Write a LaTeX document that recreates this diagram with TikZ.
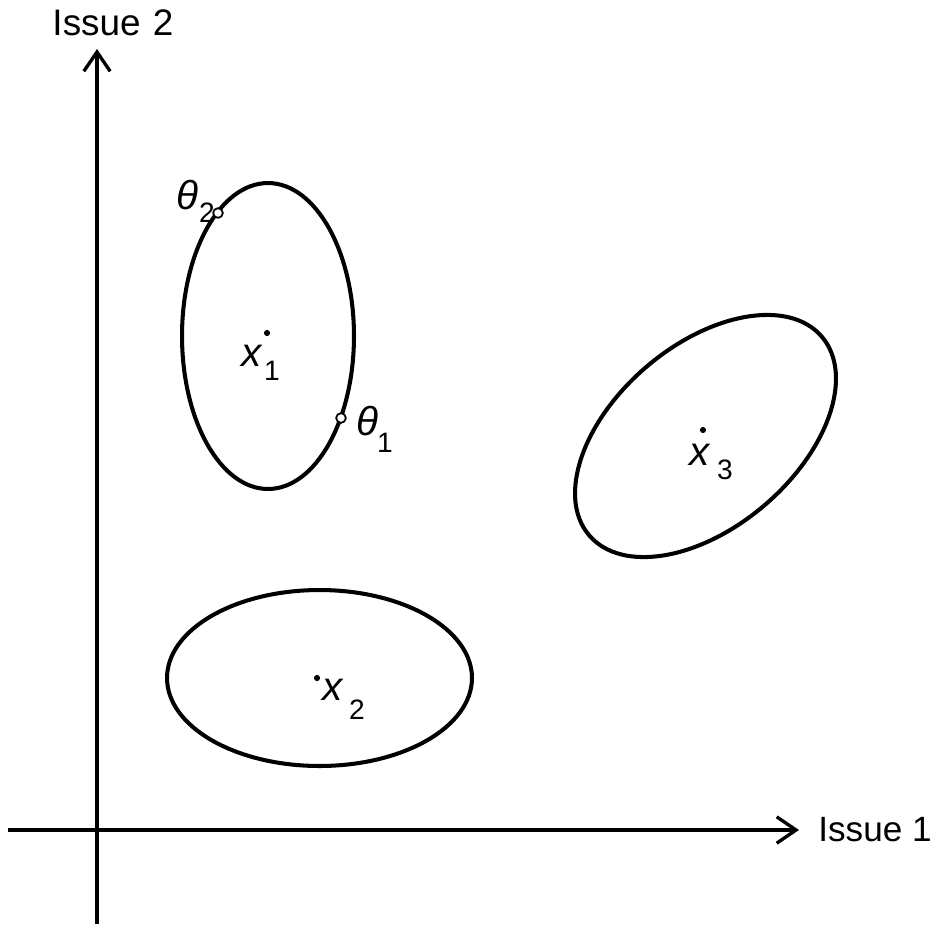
\documentclass[tikz,border=0pt]{standalone}
\usepackage{fontspec}
\setmainfont{Liberation Sans}
\usetikzlibrary{arrows.meta}
\begin{document}
\begin{tikzpicture}[x=0.02cm,y=-0.02cm,
  axis/.style={line width=1.9pt, -{Straight Barb[length=11pt,width=15pt,line width=1.9pt]}},
  region/.style={line width=2.3pt},
  lbl/.style={font=\fontsize{21}{25}\selectfont, inner sep=0pt},
  sym/.style={font=\fontsize{23}{27}\selectfont\itshape, inner sep=0pt},
  sub/.style={font=\fontsize{16}{19}\selectfont, inner sep=0pt},
  pt/.style={circle, fill, inner sep=0pt, minimum size=3.5pt},
  ring/.style={circle, draw, line width=1pt, fill=white, inner sep=0pt, minimum size=5.5pt}]
\useasboundingbox[fill=white] (0,0) rectangle (937,924);
% axes
\coordinate (vb) at (97,924);
\coordinate (vt) at (97,49);
\coordinate (hl) at (8,830);
\coordinate (hr) at (799,830);
\draw[axis] (vb) -- (vt);
\draw[axis] (hl) -- (hr);
\node[lbl] (i2) at (113,23) {Issue\,\,2};
\node[lbl, font=\fontsize{20}{24}\selectfont, anchor=west] (i1) at (818,830) {Issue 1};
% ellipses
\draw[region] (268,336) ellipse [x radius=1.72cm, y radius=3.06cm];
\draw[region] (319.5,678) ellipse [x radius=3.05cm, y radius=1.76cm];
\draw[region, rotate around={40.5:(705.5,436)}] (705.5,436) ellipse [x radius=3.06cm, y radius=1.82cm];
% points on ellipse 1
\node[ring] (t2) at (218,213) {};
\node[ring] (t1) at (341,418) {};
\node[sym] (t2l) at (187,195) {θ};
\node[sub] (t2s) at (207,213) {2};
\node[sym] (t1l) at (367,421) {θ};
\node[sub] (t1s) at (385,443) {1};
% ideal points
\node[pt] (p1) at (267,333) {};
\node[sym] (x1l) at (252,356) {x};
\node[sub] (x1s) at (272,371) {1};
\node[pt] (p2) at (317,678) {};
\node[sym] (x2l) at (333,690) {x};
\node[sub] (x2s) at (357,710) {2};
\node[pt] (p3) at (703,430) {};
\node[sym] (x3l) at (700,455) {x};
\node[sub] (x3s) at (725,470) {3};
\end{tikzpicture}
\end{document}
